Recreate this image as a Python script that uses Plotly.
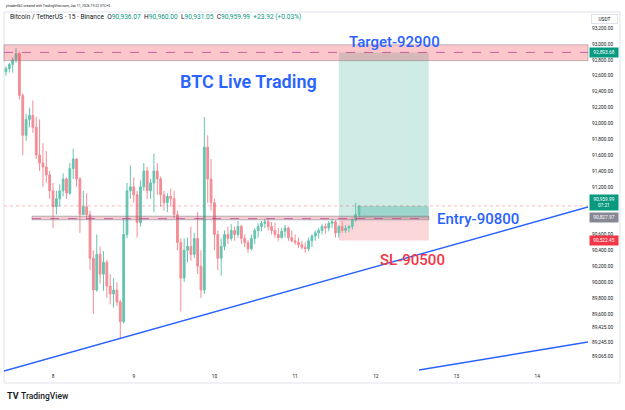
import pandas as pd
import plotly.graph_objects as go

W, H = 625, 410

# ---------------- data ----------------
times = pd.date_range("2026-01-07 10:00", "2026-01-11 19:00", freq="h")

open_ = [92650, 92690, 92740, 92800, 92880, 92350, 91850, 92050, 92100, 91950,
         91600, 91500, 91450, 91350, 91150, 90950, 91050, 91150, 91300, 91120,
         91430, 91550, 91300, 90850, 90950, 90850, 90300, 89900, 90350, 90100,
         90250, 89950, 89850, 89900, 89750, 89500, 90600, 91150, 91200, 91100,
         90750, 91200, 91400, 91150, 91250, 91400, 91300, 91100, 91000, 91080,
         91050, 90850, 90500, 90050, 90400, 90450, 90350, 90550, 90200, 89900,
         91700, 91300, 91000, 90600, 90300, 90450, 90600, 90550, 90650, 90600,
         90700, 90550, 90500, 90420, 90550, 90650, 90700, 90740, 90760, 90700,
         90650, 90600, 90560, 90640, 90680, 90560, 90520, 90500, 90470, 90440,
         90420, 90520, 90580, 90620, 90650, 90700, 90680, 90740, 90760, 90620,
         90700, 90650, 90680, 90700, 90780, 90850]
high = [92720, 92760, 92830, 92950, 92900, 92380, 92120, 92200, 92290, 92080,
        92050, 91750, 91650, 91400, 91250, 91150, 91230, 91370, 91320, 91500,
        91680, 91560, 91320, 91150, 91120, 90900, 90400, 90600, 90450, 90390,
        90280, 90100, 90050, 90000, 89780, 90800, 91250, 91470, 91320, 91150,
        91280, 91500, 91450, 91300, 91620, 91500, 91330, 91150, 91120, 91180,
        91150, 90900, 90550, 90550, 90560, 90700, 90620, 90880, 90400, 92080,
        91850, 91550, 91050, 90650, 90550, 90650, 90700, 90730, 90700, 90770,
        90720, 90600, 90530, 90600, 90680, 90740, 90770, 90800, 90800, 90760,
        90750, 90680, 90680, 90720, 90700, 90650, 90600, 90560, 90520, 90500,
        90560, 90600, 90650, 90680, 90730, 90740, 90770, 90800, 90780, 90720,
        90770, 90720, 90720, 90800, 91000, 90960]
low = [92600, 92640, 92640, 92760, 92300, 91600, 91780, 91950, 91880, 91550,
       91400, 91200, 91250, 91050, 90680, 90850, 90950, 91080, 91050, 91100,
       91300, 91200, 90620, 90850, 90780, 90150, 89600, 89880, 89980, 89890,
       89800, 89720, 89680, 89700, 89280, 89480, 90550, 91050, 91000, 90560,
       90700, 91150, 91050, 91050, 90880, 91100, 90950, 90900, 90880, 90950,
       90800, 90400, 89630, 90000, 90250, 90270, 90300, 90100, 89800, 89850,
       91000, 90900, 90400, 90150, 90080, 90400, 90480, 90520, 90520, 90560,
       90480, 90440, 90370, 90400, 90480, 90560, 90640, 90680, 90650, 90600,
       90560, 90520, 90550, 90560, 90520, 90500, 90470, 90430, 90410, 90370,
       90390, 90440, 90520, 90550, 90600, 90610, 90640, 90680, 90560, 90560,
       90620, 90620, 90630, 90660, 90760, 90800]
close = [92690, 92740, 92800, 92880, 92350, 91850, 92050, 92100, 91950, 91600,
         91500, 91450, 91350, 91150, 90950, 91050, 91150, 91300, 91120, 91430,
         91550, 91300, 90850, 90950, 90850, 90300, 89900, 90350, 90100, 90250,
         89950, 89850, 89900, 89750, 89500, 90600, 91150, 91200, 91100, 90750,
         91200, 91400, 91150, 91250, 91400, 91300, 91100, 91000, 91080, 91050,
         90850, 90500, 90050, 90400, 90450, 90350, 90550, 90200, 89900, 91700,
         91300, 91000, 90600, 90300, 90450, 90600, 90550, 90650, 90600, 90700,
         90550, 90500, 90420, 90550, 90650, 90700, 90740, 90760, 90700, 90650,
         90600, 90560, 90640, 90680, 90560, 90520, 90500, 90470, 90440, 90420,
         90520, 90580, 90620, 90650, 90700, 90680, 90740, 90760, 90620, 90700,
         90650, 90680, 90700, 90780, 90850, 90959.99]

day_ticks = ["2026-01-08", "2026-01-09", "2026-01-10", "2026-01-11",
             "2026-01-12", "2026-01-13", "2026-01-14"]
day_labels = ["8", "9", "10", "11", "12", "13", "14"]

# visible price-scale labels (91,000 / 90,800 sit behind the price tags)
price_ticks = [93200, 93000, 92800, 92600, 92400, 92200, 92000, 91800, 91600,
               91400, 91200, 90600, 90400, 90200, 90000, 89800,
               89600, 89425, 89245, 89065]
price_labels = [f"{v:,.2f}" for v in price_ticks]

# levels / drawings
resist_lo, resist_hi = 92790, 92990
target_price = 92893.68
entry_lo, entry_hi = 90785, 90830
entry_price = 90800
sl_price = 90522.45
last_price = 90959.99
avg_price = 90827.97
countdown = "07:21"

entry_band_start, entry_band_end = "2026-01-07 17:45", "2026-01-12 15:45"
pos_start, pos_end = "2026-01-11 13:00", "2026-01-12 15:45"
pnl_start = "2026-01-11 19:00"

trend1_t = ["2026-01-07 09:25", "2026-01-14 15:06"]
trend1_p = [88880, 90946]
trend2_t = ["2026-01-12 12:51", "2026-01-14 15:06"]
trend2_p = [88892, 89245]

x_range = ["2026-01-07 09:25", "2026-01-14 15:06"]
y_range = [88867, 93403]

UP, DOWN = "#089981", "#f23645"
BLUE = "#2962ff"
FONT = "Roboto"

def px(x):
    return x / W

def py(y):
    return 1 - y / H

fig = go.Figure()

fig.add_trace(go.Candlestick(
    x=times, open=open_, high=high, low=low, close=close,
    increasing=dict(line=dict(color="#66c4b1", width=1), fillcolor="#66c4b1"),
    decreasing=dict(line=dict(color="#f38d95", width=1), fillcolor="#f38d95"),
    whiskerwidth=0, hoverinfo="skip", showlegend=False))

fig.add_trace(go.Scatter(x=trend1_t, y=trend1_p, mode="lines",
                         line=dict(color=BLUE, width=1.4), hoverinfo="skip",
                         showlegend=False, cliponaxis=True))
fig.add_trace(go.Scatter(x=trend2_t, y=trend2_p, mode="lines",
                         line=dict(color=BLUE, width=1.4), hoverinfo="skip",
                         showlegend=False, cliponaxis=True))

shapes = []
# position tool
shapes.append(dict(type="rect", xref="x", yref="y", x0=pos_start, x1=pos_end,
                   y0=entry_price, y1=target_price, fillcolor="rgba(8,153,129,0.2)",
                   line=dict(width=0), layer="below"))
shapes.append(dict(type="rect", xref="x", yref="y", x0=pos_start, x1=pos_end,
                   y0=sl_price, y1=entry_price, fillcolor="rgba(242,54,69,0.2)",
                   line=dict(width=0), layer="below"))
shapes.append(dict(type="rect", xref="x", yref="y", x0=pnl_start, x1=pos_end,
                   y0=entry_price, y1=last_price, fillcolor="rgba(8,153,129,0.25)",
                   line=dict(width=0), layer="below"))
# resistance band
shapes.append(dict(type="rect", xref="paper", yref="y", x0=px(4), x1=px(588),
                   y0=resist_lo, y1=resist_hi, fillcolor="rgba(242,54,69,0.28)",
                   line=dict(color="rgba(120,123,134,0.45)", width=1), layer="above"))
shapes.append(dict(type="line", xref="paper", yref="y", x0=px(4), x1=px(588),
                   y0=target_price, y1=target_price,
                   line=dict(color="rgba(190,60,150,0.75)", width=1, dash="dash"), layer="above"))
# entry band
shapes.append(dict(type="rect", xref="x", yref="y", x0=entry_band_start, x1=entry_band_end,
                   y0=entry_lo, y1=entry_hi, fillcolor="rgba(242,54,69,0.25)",
                   line=dict(color="rgba(120,123,134,0.55)", width=1), layer="above"))
shapes.append(dict(type="line", xref="x", yref="y", x0=entry_band_start, x1=entry_band_end,
                   y0=entry_price, y1=entry_price,
                   line=dict(color="rgba(190,60,150,0.75)", width=1, dash="dash"), layer="above"))
# last price line
shapes.append(dict(type="line", xref="paper", yref="y", x0=px(4), x1=px(588),
                   y0=last_price, y1=last_price,
                   line=dict(color="rgba(242,54,69,0.35)", width=1, dash="dot"), layer="above"))
# frame
shapes.append(dict(type="rect", xref="paper", yref="paper", x0=px(4), x1=px(620),
                   y0=py(383), y1=py(12), line=dict(color="#e0e3eb", width=1),
                   fillcolor="rgba(0,0,0,0)", layer="below"))

anns = []
# header
anns.append(dict(text="jrtrader562 created with TradingView.com, Jan 11, 2026 19:22 UTC+5",
                 x=px(3), y=py(6), xref="paper", yref="paper", xanchor="left",
                 yanchor="middle", showarrow=False,
                 font=dict(family=FONT, size=3.4, color="#131722")))
g = "<span style='color:#089981'>%s</span>"
hdr = ("Bitcoin / TetherUS · 15 · Binance  O" + g % "90,936.07" + "  H" + g % "90,960.00"
       + "  L" + g % "90,931.05" + "  C" + g % "90,959.99" + "  " + g % "+23.92 (+0.03%)")
anns.append(dict(text=hdr, x=px(8), y=py(17), xref="paper", yref="paper",
                 xanchor="left", yanchor="middle", showarrow=False,
                 font=dict(family=FONT, size=6.6, color="#131722")))
# texts on chart
anns.append(dict(text="BTC Live Trading", x=px(248), y=py(82), xref="paper", yref="paper",
                 xanchor="center", yanchor="middle", showarrow=False,
                 font=dict(family=FONT, size=18, color=BLUE, weight=600)))
anns.append(dict(text="Target-92900", x=px(347), y=py(42), xref="paper", yref="paper",
                 xanchor="left", yanchor="middle", showarrow=False,
                 font=dict(family=FONT, size=15, color=BLUE, weight=500)))
anns.append(dict(text="Entry-90800", x=px(435), y=py(219), xref="paper", yref="paper",
                 xanchor="left", yanchor="middle", showarrow=False,
                 font=dict(family=FONT, size=15, color=BLUE, weight=500)))
anns.append(dict(text="SL-90500", x=px(378), y=py(260), xref="paper", yref="paper",
                 xanchor="left", yanchor="middle", showarrow=False,
                 font=dict(family=FONT, size=15, color=DOWN, weight=500)))
# price scale labels
def plabel(text, price, bg, h=8, shift=0):
    return dict(text=text, x=px(589), y=price, xref="paper", yref="y",
                xanchor="left", yanchor="middle", showarrow=False, bgcolor=bg,
                width=27, height=h, borderpad=0.5, align="center", yshift=shift,
                font=dict(family=FONT, size=4.8, color="white"))
anns.append(plabel(f"{target_price:,.2f}", target_price, UP))
anns.append(plabel(f"{last_price:,.2f}<br>{countdown}", last_price, UP, h=14, shift=3))
anns.append(plabel(f"{avg_price:,.2f}", avg_price, "#868993", shift=-1))
anns.append(plabel(f"{sl_price:,.2f}", sl_price, DOWN))
anns.append(dict(text="USDT", x=px(604), y=py(19), xref="paper", yref="paper",
                 xanchor="center", yanchor="middle", showarrow=False, bgcolor="white",
                 bordercolor="#e0e3eb", borderwidth=1, borderpad=1.5, width=22,
                 font=dict(family=FONT, size=4.8, color="#131722")))
# logo
anns.append(dict(text="<b>TV</b>", x=px(5), y=py(396), xref="paper", yref="paper",
                 xanchor="left", yanchor="middle", showarrow=False,
                 font=dict(family=FONT, size=9, color="#131722")))
anns.append(dict(text="TradingView", x=px(19), y=py(396), xref="paper", yref="paper",
                 xanchor="left", yanchor="middle", showarrow=False,
                 font=dict(family=FONT, size=8.5, color="#131722", weight=500)))

fig.update_layout(
    width=W, height=H, autosize=False,
    margin=dict(l=0, r=0, t=0, b=0),
    paper_bgcolor="white", plot_bgcolor="white",
    showlegend=False, boxgap=0.25,
    shapes=shapes, annotations=anns,
    xaxis=dict(domain=[px(4), px(588)], range=x_range, type="date",
               tickvals=day_ticks, ticktext=day_labels, showgrid=False,
               zeroline=False, showline=False, ticks="",
               tickfont=dict(family=FONT, size=4.8, color="#131722"),
               rangeslider=dict(visible=False), fixedrange=True),
    yaxis=dict(domain=[py(372), py(12)], range=y_range, side="right",
               tickvals=price_ticks, ticktext=price_labels, showgrid=False,
               zeroline=False, showline=False, ticks="", ticklabelstandoff=3,
               tickfont=dict(family=FONT, size=4.8, color="#131722"),
               fixedrange=True),
)

fig.write_html("out.html", config={"displayModeBar": False},
               post_script="document.body.style.margin='0px';")
